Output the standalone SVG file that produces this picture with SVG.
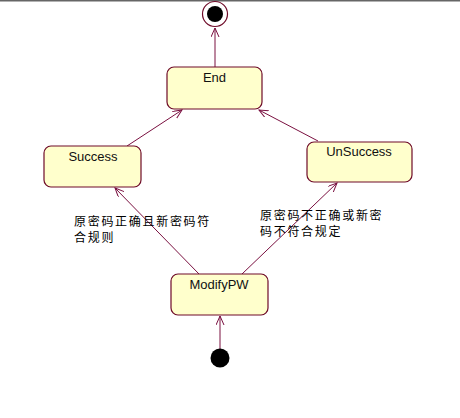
<svg xmlns="http://www.w3.org/2000/svg" width="460" height="418" viewBox="0 0 460 418">
<defs>
<style>
.state{fill:#ffffcc;stroke:#6e0a28;stroke-width:1.2}
.lbl{font-family:"Liberation Sans",Arial,sans-serif;font-size:13px;fill:#111;text-anchor:middle}
.cn{font-family:"Noto Sans CJK SC",sans-serif;font-size:12px;fill:#000;letter-spacing:1.7px}
.edge{stroke:#7a1040;stroke-width:1;fill:none;marker-end:url(#arr)}
</style>
<marker id="arr" markerWidth="10" markerHeight="10" refX="9" refY="4" orient="auto" markerUnits="userSpaceOnUse">
<path d="M0,0 L9,4 L0,8" fill="none" stroke="#7a1040" stroke-width="1"/>
</marker>
</defs>
<rect x="0" y="0" width="460" height="418" fill="#fff"/>
<rect x="0" y="0" width="460" height="1.5" fill="#666"/>
<g id="connectors">
<line class="edge" x1="215" y1="67" x2="215" y2="28"/>
<line class="edge" x1="127" y1="146" x2="182" y2="110"/>
<line class="edge" x1="318" y1="141" x2="259" y2="110"/>
<line class="edge" x1="199" y1="274" x2="115" y2="188"/>
<line class="edge" x1="242" y1="274" x2="337" y2="183"/>
<line class="edge" x1="220" y1="349" x2="220" y2="316"/>
</g>
<g id="final">
<circle cx="215" cy="14" r="12.5" fill="#fff" stroke="#6e0a28" stroke-width="1.2"/>
<circle cx="215" cy="14" r="8" fill="#000"/>
</g>
<g id="end">
<rect class="state" x="167" y="67" width="95" height="42" rx="7"/>
<text class="lbl" x="214.5" y="82">End</text>
</g>
<g id="success">
<rect class="state" x="44" y="146" width="97" height="41" rx="7"/>
<text class="lbl" x="93" y="161">Success</text>
</g>
<g id="unsuccess">
<rect class="state" x="307" y="142" width="105" height="40" rx="7"/>
<text class="lbl" x="359" y="156">UnSuccess</text>
</g>
<g id="modifypw">
<rect class="state" x="171" y="274" width="97" height="41" rx="7"/>
<text class="lbl" x="219" y="289">ModifyPW</text>
</g>
<g id="initial">
<circle cx="220" cy="358" r="9.5" fill="#000"/>
</g>
<g id="labels">
<text class="cn" x="74" y="226">原密码正确且新密码符</text>
<text class="cn" x="74" y="242">合规则</text>
<text class="cn" x="260" y="220">原密码不正确或新密</text>
<text class="cn" x="260" y="236">码不符合规定</text>
</g>
</svg>
